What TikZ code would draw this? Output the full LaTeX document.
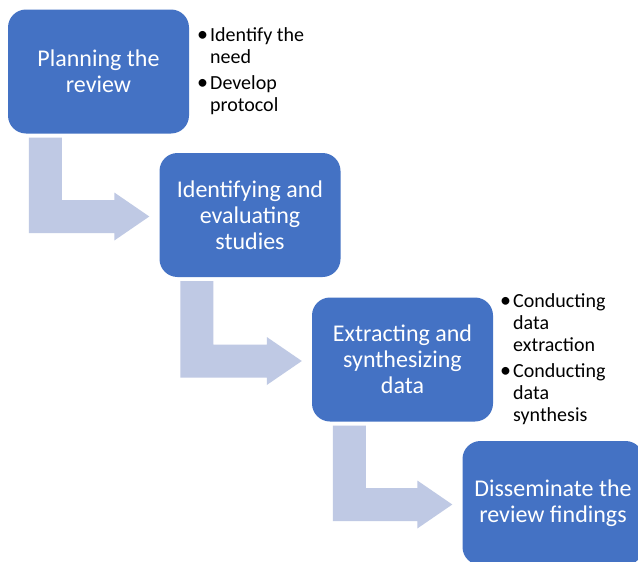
\documentclass[tikz,border=0pt]{standalone}
\usepackage{fontspec}
\setmainfont{Carlito}
\usetikzlibrary{calc}

\definecolor{stagefill}{RGB}{68,114,196}
\definecolor{flowfill}{RGB}{191,201,228}

\tikzset{
  stage/.style={fill=stagefill, rounded corners=18pt, minimum width=181pt,
    minimum height=124pt, inner sep=0pt, align=center, text=white,
    font=\fontsize{24}{26}\selectfont},
  notes/.style={anchor=base west, inner sep=0pt, text=black,
    font=\fontsize{20}{22}\selectfont},
  flowarrow/.style={fill=flowfill}
}

% bent block arrow: down out of box #1, then right into box #2
\newcommand{\bentflow}[2]{%
  \fill[flowarrow] let \p1=($(#1.south west)+(21,4)$),
                       \p2=($(#2.west)+(-10,1.5)$) in
    (\x1,\y1) -- (\x1+33pt,\y1) -- (\x1+33pt,\y2+16.5pt)
    -- (\x2-35pt,\y2+16.5pt) -- (\x2-35pt,\y2+24pt) -- (\x2,\y2)
    -- (\x2-35pt,\y2-24pt) -- (\x2-35pt,\y2-16.5pt)
    -- (\x1,\y2-16.5pt) -- cycle;}

\newcommand{\bul}{\makebox[13pt][l]{\fontsize{22}{22}\selectfont •}}

\begin{document}
\begin{tikzpicture}[x=1pt,y=-1pt]
  \fill[white] (0,0) rectangle (638,562);
  \clip (0,0) rectangle (638,562);

  \node[stage] (plan)  at (98.5,71.5)  {Planning the\\review};
  \node[stage] (ident) at (250,215)    {Identifying and\\evaluating\\studies};
  \node[stage] (extr)  at (402.5,359.5){Extracting and\\synthesizing\\data};
  \node[stage] (diss)  at (553,503)    {Disseminate the\\review findings};

  \bentflow{plan}{ident}
  \bentflow{ident}{extr}
  \bentflow{extr}{diss}

  \node[notes] (plannotes) at (197,41.7) {%
    \begin{tabular}[t]{@{}l@{}l@{}}
      \bul & Identify the\\
           & need\\[4pt]
      \bul & Develop\\
           & protocol
    \end{tabular}};

  \node[notes] (extrnotes) at (500,307) {%
    \begin{tabular}[t]{@{}l@{}l@{}}
      \bul & Conducting\\
           & data\\
           & extraction\\[4pt]
      \bul & Conducting\\
           & data\\
           & synthesis
    \end{tabular}};
\end{tikzpicture}
\end{document}
